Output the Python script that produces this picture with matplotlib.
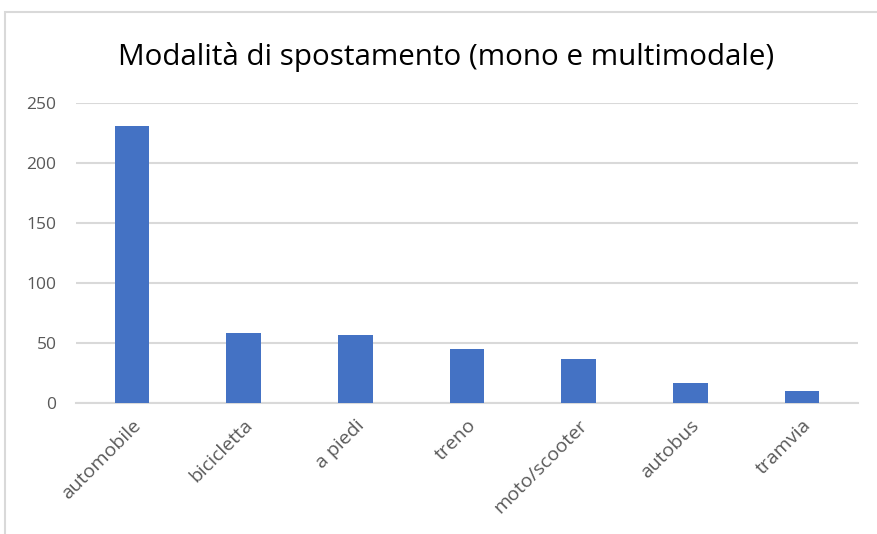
import matplotlib.pyplot as plt
from matplotlib.patches import Rectangle

categories = ['automobile', 'bicicletta', 'a piedi', 'treno', 'moto/scooter', 'autobus', 'tramvia']
values = [231, 59, 57, 45, 37, 17, 10]
y_ticks = [0, 50, 100, 150, 200, 250]

plt.rcParams['font.family'] = ['Open Sans', 'DejaVu Sans']

fig = plt.figure(figsize=(8.78, 5.34), dpi=100)
ax = fig.add_axes([0.0866, 0.2444, 0.8904, 0.5618])

# chart border like the Excel frame
fig.patches.append(Rectangle((5 / 878, -0.1), 1.2, (534 - 12) / 534 + 0.1,
                             transform=fig.transFigure, fill=False,
                             edgecolor='#D9D9D9', linewidth=1.5))

x = range(len(categories))
ax.bar(x, values, width=0.31, color='#4472C4', zorder=3)

ax.set_xlim(-0.5, len(categories) - 0.5)
ax.set_ylim(0, 250)
ax.set_yticks(y_ticks)
ax.set_xticks(list(x))
ax.set_xticklabels(categories, rotation=45, ha='right', rotation_mode='anchor')

ax.grid(axis='y', color='#D9D9D9', linewidth=1.5, zorder=0)
for side in ['top', 'right', 'left']:
    ax.spines[side].set_visible(False)
ax.spines['bottom'].set_color('#D9D9D9')
ax.spines['bottom'].set_linewidth(1.5)

ax.tick_params(axis='both', length=0, labelcolor='#595959')
ax.tick_params(axis='y', pad=14, labelsize=12.5)
ax.tick_params(axis='x', pad=9, labelsize=14)

fig.text(0.508, 0.894, 'Modalità di spostamento (mono e multimodale)',
         ha='center', va='center', fontsize=21.3, color='#000000')

fig.savefig('out.png', dpi=100)
